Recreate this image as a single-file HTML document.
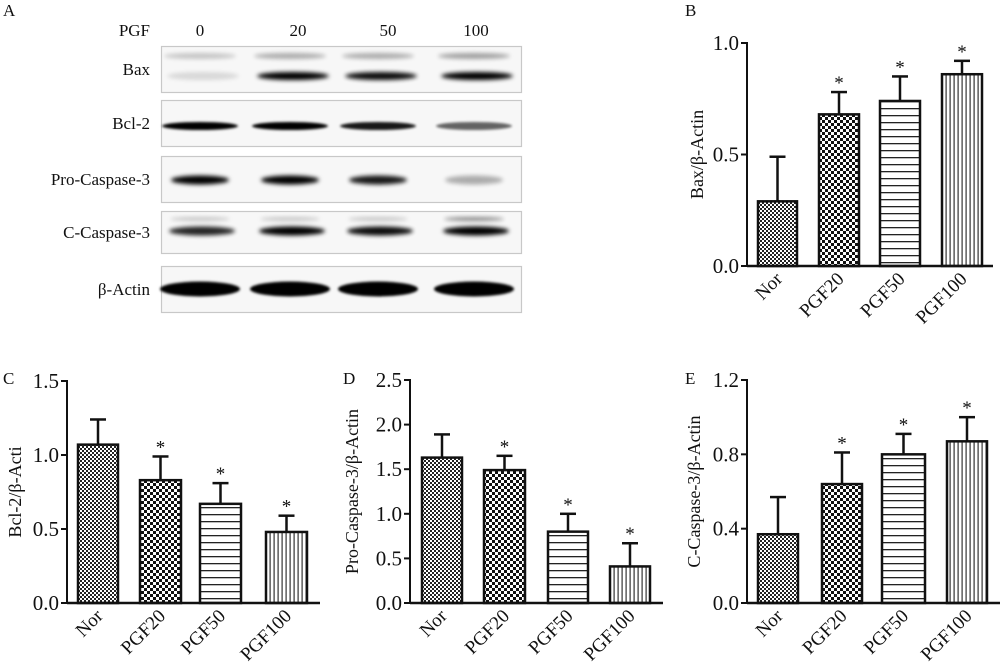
<!DOCTYPE html>
<html><head><meta charset="utf-8"><style>
html,body{margin:0;padding:0;background:#fff;width:1000px;height:671px;overflow:hidden}
svg text{font-family:"Liberation Serif",serif;fill:#111}
</style></head><body>
<svg id="s" width="1000" height="671" viewBox="0 0 1000 671" xmlns="http://www.w3.org/2000/svg">
<defs>
<pattern id="p0" width="4" height="4" patternUnits="userSpaceOnUse"><rect width="4" height="4" fill="#fff"/><rect width="2" height="2" fill="#222"/><rect x="2" y="2" width="2" height="2" fill="#222"/></pattern>
<pattern id="p1" width="6" height="6" patternUnits="userSpaceOnUse"><rect width="6" height="6" fill="#fff"/><rect width="3" height="3" fill="#111"/><rect x="3" y="3" width="3" height="3" fill="#111"/></pattern>
<pattern id="p2" width="8" height="7" patternUnits="userSpaceOnUse"><rect width="8" height="7" fill="#fff"/><rect y="3" width="8" height="1.3" fill="#222"/></pattern>
<pattern id="p3" width="4" height="8" patternUnits="userSpaceOnUse"><rect width="4" height="8" fill="#fff"/><rect x="1.5" width="1.2" height="8" fill="#333"/></pattern>
<filter id="bl" x="-20%" y="-100%" width="140%" height="300%"><feGaussianBlur stdDeviation="2"/></filter>
<filter id="bl2" x="-20%" y="-100%" width="140%" height="300%"><feGaussianBlur stdDeviation="1.2"/></filter>
</defs>
<g id="g"></g>
</svg>
<script>
var g=document.getElementById('g'),h='';
function t(x,y,s,sz,anc,extra){h+='<text x="'+x+'" y="'+y+'" style="font-size:'+sz+'px" text-anchor="'+(anc||'start')+'" '+(extra||'')+'>'+s+'</text>';}
// Panel A
t(3,16,'A',17);
t(150,36,'PGF',17,'end');
[[200,'0'],[298,'20'],[388,'50'],[476,'100']].forEach(function(a){t(a[0],36,a[1],17,'middle');});
var boxes=[[46,92,'Bax'],[100,146,'Bcl-2'],[156,202,'Pro-Caspase-3'],[211,253,'C-Caspase-3'],[266,312,'β-Actin']];
boxes.forEach(function(b){h+='<rect x="161.5" y="'+(b[0]+.5)+'" width="360" height="'+(b[1]-b[0])+'" fill="#f7f7f7" stroke="#c8c8c8" stroke-width="1.2"/>';t(150,(b[0]+b[1])/2+6,b[2],17,'end');});
var lanes=[200,290,378,474];
function band(cx,cy,w,hh,op,f){h+='<ellipse cx="'+cx+'" cy="'+cy+'" rx="'+w/2+'" ry="'+hh/2+'" fill="#000" opacity="'+op+'" filter="url(#'+(f||'bl')+')"/>';}
// Bax
[.2,.3,.3,.35].forEach(function(o,i){band(lanes[i],56,72,6,o);});
[.12,1,.95,1].forEach(function(o,i){band(lanes[i]+3,76,72,8,o);});
// Bcl-2
[1,1,.9,.6].forEach(function(o,i){band(lanes[i],126,76,8,o,'bl2');});
// Pro
[1,1,.9,.3].forEach(function(o,i){band(lanes[i],180,58,9,o);});
// C-casp
[.2,.2,.2,.45].forEach(function(o,i){band(lanes[i],219,60,4,o);});
[.85,1,.95,1].forEach(function(o,i){band(lanes[i]+2,231,66,9,o);});
// Actin
[1,1,1,1].forEach(function(o,i){band(lanes[i],289,80,15,o,'bl2');});
// bar panels
var labs=['Nor','PGF20','PGF50','PGF100'];
function panel(L,lx,ly,ax,yT,y0,axEnd,max,ticks,bars,vals,errs,ylab,ylx){
 t(lx,ly,L,17);
 var sc=(y0-yT)/max;
 for(var i=0;i<4;i++){var x0=bars[i][0],x1=bars[i][1],v=vals[i],e=errs[i];var yv=y0-v*sc,ye=y0-e*sc,cx=(x0+x1)/2;
  h+='<line x1="'+cx+'" y1="'+yv+'" x2="'+cx+'" y2="'+ye+'" stroke="#111" stroke-width="2.5"/>';
  h+='<line x1="'+(cx-8)+'" y1="'+ye+'" x2="'+(cx+8)+'" y2="'+ye+'" stroke="#111" stroke-width="2.5"/>';
  h+='<rect x="'+x0+'" y="'+yv+'" width="'+(x1-x0)+'" height="'+(y0-yv)+'" fill="url(#p'+i+')" stroke="#111" stroke-width="2.5"/>';
  if(i>0)t(cx,ye-3,'*',19,'middle');
  h+='<text style="font-size:19px" text-anchor="end" transform="translate('+(cx+6)+','+(y0+14)+') rotate(-45)">'+labs[i]+'</text>';
 }
 h+='<line x1="'+ax+'" y1="'+(yT-1)+'" x2="'+ax+'" y2="'+y0+'" stroke="#111" stroke-width="2"/>';
 h+='<line x1="'+ax+'" y1="'+y0+'" x2="'+axEnd+'" y2="'+y0+'" stroke="#111" stroke-width="2.5"/>';
 ticks.forEach(function(tv){var y=y0-parseFloat(tv)*sc;h+='<line x1="'+(ax-6)+'" y1="'+y+'" x2="'+ax+'" y2="'+y+'" stroke="#111" stroke-width="2"/>';t(ax-8,y+7,tv,21,'end');});
 var my=(yT+y0)/2;h+='<text style="font-size:18px" text-anchor="middle" transform="translate('+ylx+','+my+') rotate(-90)">'+ylab+'</text>';
}
panel('B',685,16,747,43,266,993,1.0,['0.0','0.5','1.0'],[[758,797],[819,859],[880,920],[942,982]],[.29,.68,.74,.86],[.49,.78,.85,.92],'Bax/β-Actin',703);
panel('C',3,384,67,381,603,320,1.5,['0.0','0.5','1.0','1.5'],[[78,118],[140,181],[200,241],[266,307]],[1.07,.83,.67,.48],[1.24,.99,.81,.59],'Bcl-2/β-Acti',21);
panel('D',343,384,410,380,603,663,2.5,['0.0','0.5','1.0','1.5','2.0','2.5'],[[422,462],[484,525],[548,588],[610,650]],[1.63,1.49,.80,.41],[1.89,1.65,1.00,.67],'Pro-Caspase-3/β-Actin',358);
panel('E',685,384,747,380,603,1000,1.2,['0.0','0.4','0.8','1.2'],[[758,798],[822,862],[882,925],[947,987]],[.37,.64,.80,.87],[.57,.81,.91,1.00],'C-Caspase-3/β-Actin',700);
g.innerHTML=h;
</script>
</body></html>
